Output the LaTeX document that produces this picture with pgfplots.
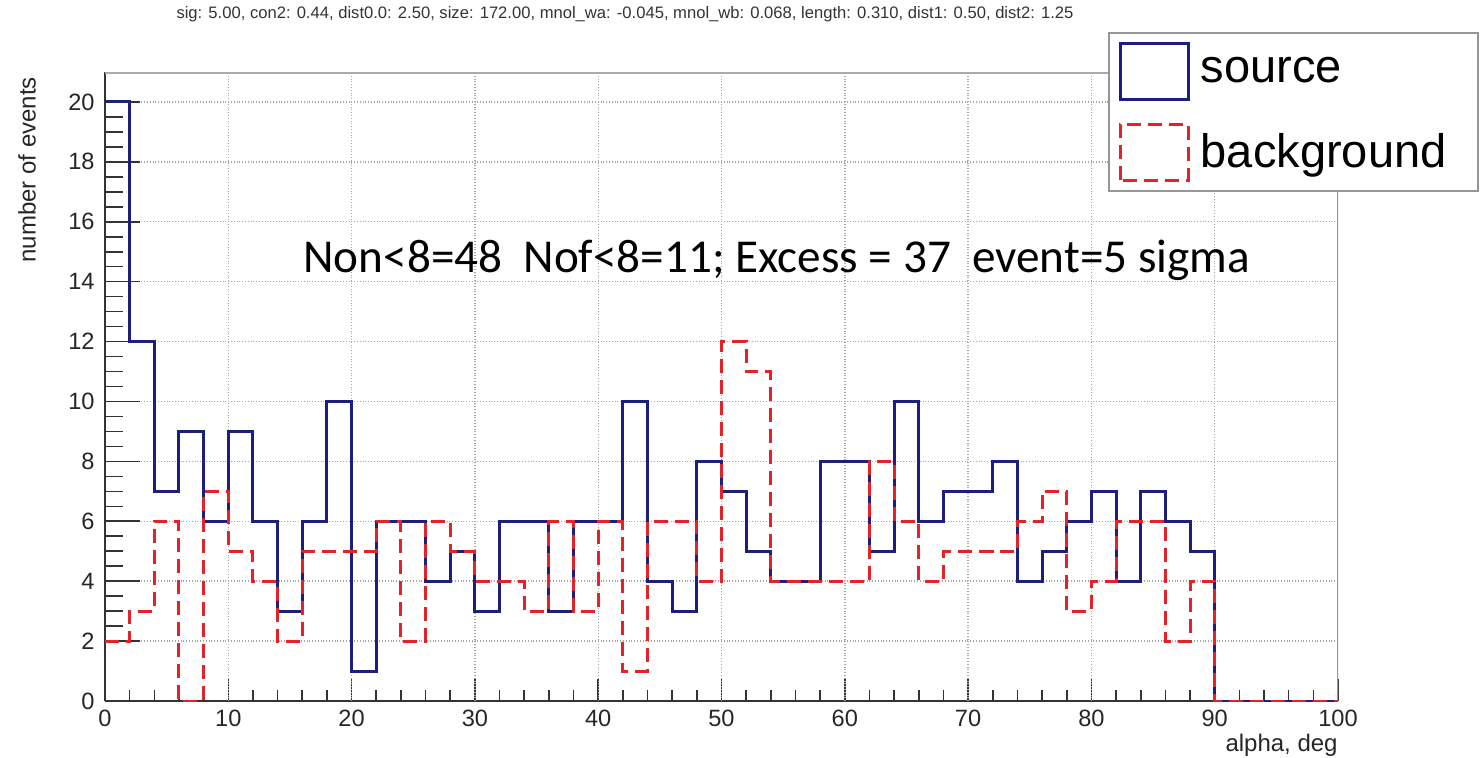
\documentclass[border=0pt]{standalone}
\usepackage{fontspec}
\setmainfont{Liberation Sans}
\newfontfamily\calibri{Carlito}
\usepackage{pgfplots}
\usepackage{pgfplotstable}
\pgfplotsset{compat=1.18}

\definecolor{srcblue}{RGB}{30,30,125}
\definecolor{bkgred}{RGB}{228,35,40}
\definecolor{framegray}{RGB}{150,150,150}

% alpha histograms, 2 deg bins, left bin edges
\pgfplotstableread{
x   n
0   20
2   12
4   7
6   9
8   6
10  9
12  6
14  3
16  6
18  10
20  1
22  6
24  6
26  4
28  5
30  3
32  6
34  6
36  3
38  6
40  6
42  10
44  4
46  3
48  8
50  7
52  5
54  4
56  4
58  8
60  8
62  5
64  10
66  6
68  7
70  7
72  8
74  4
76  5
78  6
80  7
82  4
84  7
86  6
88  5
90  0
92  0
94  0
96  0
98  0
100 0
}\sourcetab

\pgfplotstableread{
x   n
0   2
2   3
4   6
6   0
8   7
10  5
12  4
14  2
16  5
18  5
20  5
22  6
24  2
26  6
28  5
30  4
32  4
34  3
36  6
38  3
40  6
42  1
44  6
46  6
48  4
50  12
52  11
54  4
56  4
58  4
60  4
62  8
64  6
66  4
68  5
70  5
72  5
74  6
76  7
78  3
80  4
82  6
84  6
86  2
88  4
90  0
92  0
94  0
96  0
98  0
100 0
}\backgroundtab

\pgfplotsset{
  histframe/.style={
    at={(52.5pt,28pt)}, anchor=south west,
    scale only axis, width=616.5pt, height=314.5pt,
    xmin=0, xmax=100, ymin=0, ymax=21,
  },
}

\begin{document}
\begin{tikzpicture}[x=1pt,y=1pt]
\path[use as bounding box] (0,0) rectangle (740,378.5);

% bottom and left axis lines with the x ticks
\begin{axis}[
  histframe,
  axis lines*=left,
  axis line style={black!80, line width=1pt, -},
  xtick={0,10,...,100}, minor x tick num=4,
  xticklabels=\empty, ytick=\empty,
  tick align=inside,
  major tick length=11pt, minor tick length=5.5pt,
  xtick style={black!80, line width=0.8pt},
]
\end{axis}

\begin{axis}[
  histframe,
  /pgf/number format/assume math mode=true,
  xtick={10,20,...,90}, extra x ticks={0,100},
  ytick={2,4,...,20}, extra y ticks={0},
  extra tick style={grid=none},
  minor y tick num=3,
  tick align=inside, tick pos=left,
  major tick length=17.5pt, minor tick length=8.75pt,
  xtick style={draw=none},
  ytick style={black!80, line width=0.8pt},
  grid=major,
  major grid style={densely dotted, black!35, line width=0.7pt},
  axis line style={draw=none},
  ticklabel style={font=\fontsize{11.8}{14}\selectfont, text=black!85},
  yticklabel style={inner xsep=0pt, xshift=-5pt},
  xticklabel style={inner ysep=0pt, yshift=-4.5pt},
  xlabel={alpha, deg},
  ylabel={number of events},
  label style={font=\fontsize{12}{14}\selectfont, text=black!85},
  xlabel style={at={(axis description cs:1,-0.07)}, anchor=east, inner sep=0pt},
  ylabel style={at={(axis description cs:-0.0633,1.003)}, anchor=east},
  legend cell align=left,
  legend image code/.code={\draw[#1] (0pt,-14pt) rectangle (34pt,14pt);},
  legend style={at={(axis description cs:0.8135,1.0636)}, anchor=north west,
    draw=framegray, line width=0.8pt, fill=white,
    font=\fontsize{23.5}{26}\selectfont,
    inner xsep=5pt, inner ysep=4.5pt, row sep=11pt,
    /tikz/every odd column/.append style={column sep=3.5pt},
    nodes={text width=131.5pt}},
]
% frame: thick top edge, thin right edge
\draw[framegray!80, line width=2pt] (rel axis cs:0,1) -- (rel axis cs:1,1);
\draw[framegray, line width=0.8pt] (rel axis cs:1,0) -- (rel axis cs:1,1);

\addplot[const plot mark left, srcblue, line width=1.5pt] table[x=x, y=n] {\sourcetab};
\addlegendentry{source}
\addplot[const plot mark left, bkgred, line width=1.5pt, dash pattern=on 7pt off 3.5pt] table[x=x, y=n] {\backgroundtab};
\addlegendentry{background}

\node[anchor=base west, inner sep=0pt, font=\calibri\fontsize{23.6}{28}\selectfont]
  at (axis cs:16.06,14.29) {Non<8=48\hspace{0.45em}Nof<8=11; Excess = 37\hspace{0.45em}event=5 sigma};
\end{axis}

\node[font=\fontsize{8.3}{10}\selectfont, text=black!80] at (312.5,371.5)
  {sig: 5.00, con2: 0.44, dist0.0: 2.50, size: 172.00, mnol\_wa: -0.045, mnol\_wb: 0.068, length: 0.310, dist1: 0.50, dist2: 1.25};
\end{tikzpicture}
\end{document}
